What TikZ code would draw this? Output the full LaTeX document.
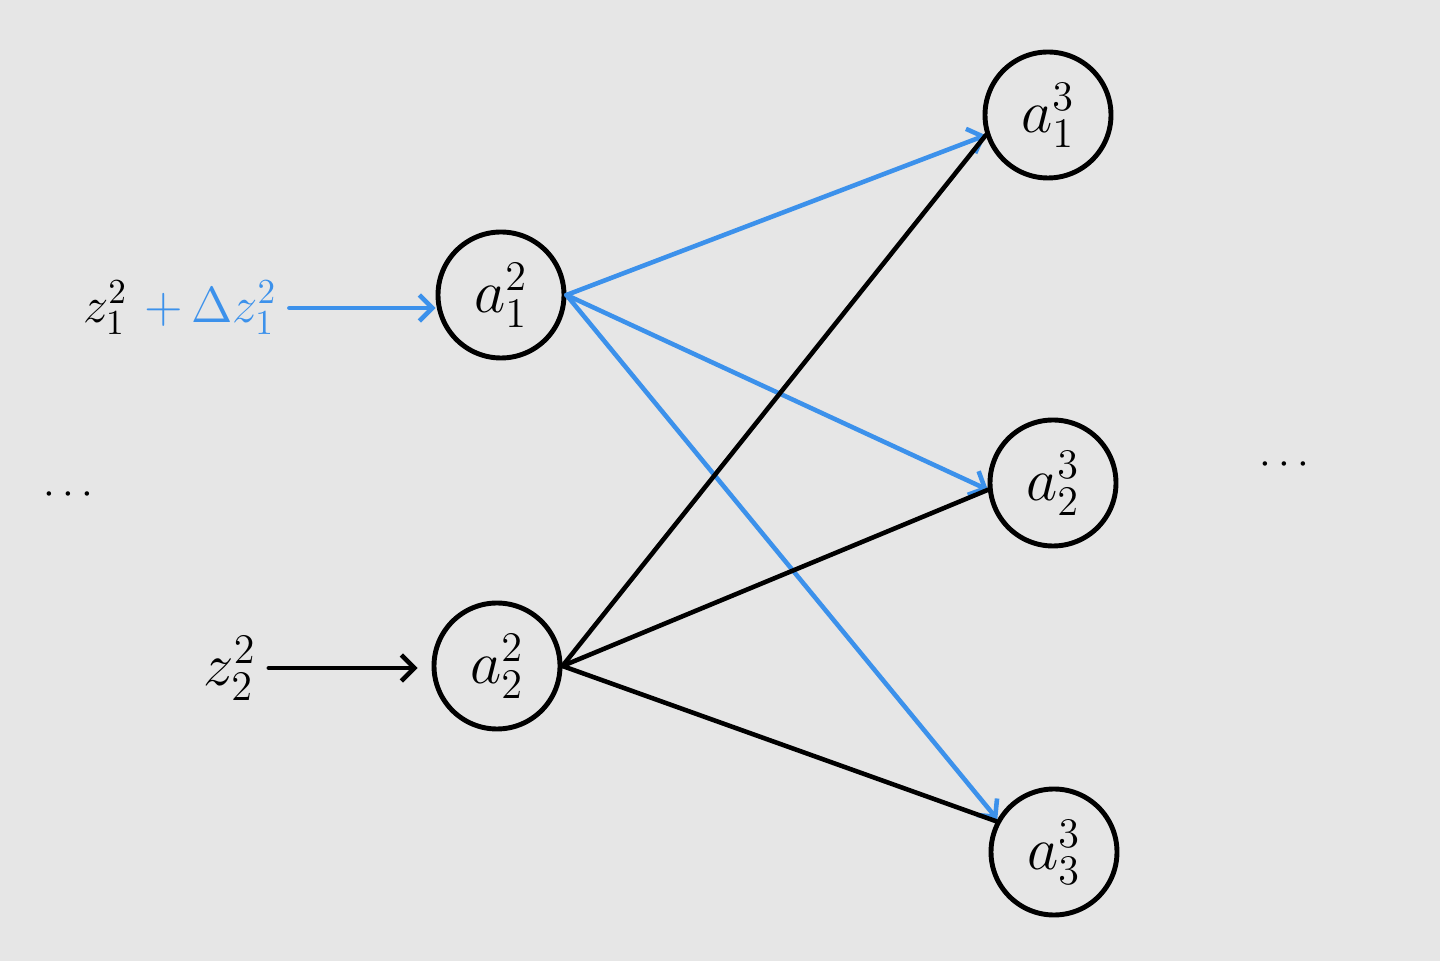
\documentclass[tikz,border=0pt]{standalone}
\usepackage{amsmath}
\usetikzlibrary{arrows.meta}
\usetikzlibrary{positioning}
\definecolor{bgray}{RGB}{230,230,230}
\definecolor{penblue}{RGB}{60,145,235}
\tikzset{neuron/.style = {draw, circle, line width=1.4pt, minimum size=1.26cm, inner sep=0pt, font=\LARGE},
         pen/.style = {line width=1.3pt, line cap=round},
         pentip/.style = {-{Straight Barb[length=1.3mm,width=2.6mm,line width=1.3pt]}}}

\begin{document}
\begin{tikzpicture}
        \draw[draw=none, fill=bgray] (0,0) rectangle (14.4,9.61); 
        \node[neuron] (a12) at (5.01,6.66) {$a_1^2$};
        \node[neuron] (a22) at (4.97,2.95) {$a_2^2$};
        \node[neuron] (a13) at (10.48,8.46) {$a_1^3$};
        \node[neuron] (a23) at (10.53,4.78) {$a_2^3$};
        \node[neuron] (a33) at (10.54,1.09) {$a_3^3$};
        \node[font=\Large] (in1) at (1.80,6.53) {$z_1^2$ \textcolor{penblue}{$+\,\Delta z_1^2$}};
        \node[font=\LARGE] (in2) at (2.30,2.93) {$z_2^2$};
        \node[font=\large] (dl) at (0.72,4.66) {$\cdots$};
        \node[font=\large] (dr) at (12.88,4.96) {$\cdots$};
        \draw[pen, pentip, penblue] (in1.east) -- (a12.west |- in1.east);
        \draw[pen, pentip, shorten >=1.4mm] (in2.east) -- (a22.west |- in2.east);
        \draw[pen, pentip, penblue] (a12.east) -- (a13.198);
        \draw[pen, pentip, penblue] (a12.east) -- (a23.186);
        \draw[pen, pentip, penblue] (a12.east) -- (a33.150);
        \draw[pen] (a22.east) -- (a13.198);
        \draw[pen] (a22.east) -- (a23.186);
        \draw[pen] (a22.east) -- (a33.152);
    \end{tikzpicture}
\end{document}
